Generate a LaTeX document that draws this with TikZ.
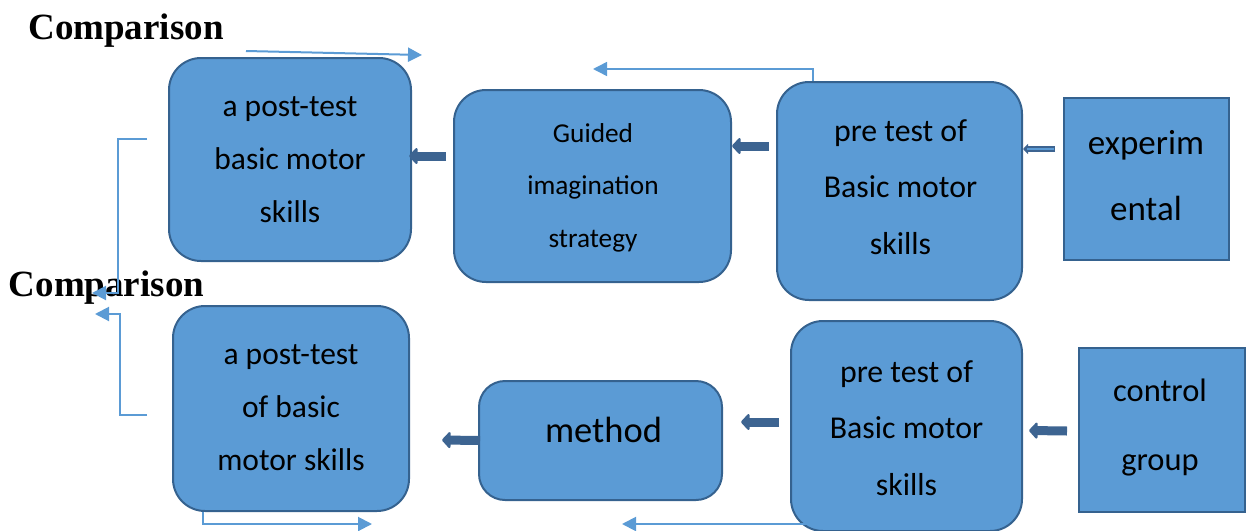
\documentclass[tikz,border=0pt]{standalone}
\usepackage{fontspec}
\setmainfont{Carlito}
\newfontfamily\tnr{Liberation Serif}
\usetikzlibrary{arrows.meta}
\definecolor{boxfill}{HTML}{5B9BD5}
\definecolor{boxline}{HTML}{35628F}
\definecolor{blockarr}{HTML}{3D6491}
\definecolor{thinline}{HTML}{5B9BD5}
\begin{document}
\begin{tikzpicture}[x=1pt,y=-1pt,
  rbox/.style={draw=boxline, fill=boxfill, line width=2pt, rounded corners=32pt, inner sep=0pt},
  sbox/.style={draw=boxline, fill=boxfill, line width=2pt, inner sep=0pt},
  txt/.style={align=center, inner sep=0pt, text=black},
  blk/.style={draw=blockarr, line width=9pt, -{Triangle[length=9pt,width=19pt,round]}},
  thin/.style={draw=thinline, line width=2pt, -{Triangle[length=14pt,width=14pt]}},
  cmp/.style={font=\tnr\bfseries\fontsize{37}{40}\selectfont, inner sep=0pt, anchor=base}
]
\useasboundingbox (0,0) rectangle (1246,530);

% boxes
\node[rbox, minimum width=242pt, minimum height=203pt] (A) at (290,159.5) {};
\node[rbox, minimum width=277pt, minimum height=192pt] (B) at (592.5,186) {};
\node[rbox, minimum width=245pt, minimum height=218pt] (C) at (899.5,191) {};
\node[sbox, minimum width=165pt, minimum height=162pt] (D) at (1146.5,179) {};
\node[rbox, minimum width=236pt, minimum height=205pt] (E) at (291,408.5) {};
\node[rbox, minimum width=243pt, minimum height=119pt, rounded corners=26pt] (F) at (600.5,440.5) {};
\node[rbox, minimum width=231pt, minimum height=210pt] (G) at (906.5,426) {};
\node[sbox, minimum width=166pt, minimum height=164pt] (H) at (1162,430) {};

% texts
\node[txt, font=\fontsize{31.5}{53}\selectfont] (tA) at (290,159.5) {a post-test\\basic motor\\skills};
\node[txt, font=\fontsize{27.3}{52.5}\selectfont] (tB) at (593,187.5) {Guided\\imagination\\strategy};
\node[txt, font=\fontsize{31.8}{56.5}\selectfont] (tC) at (900.5,187) {pre test of\\Basic motor\\skills};
\node[txt, font=\fontsize{35}{66}\selectfont] (tD) at (1146,176) {experim\\ental};
\node[txt, font=\fontsize{31.5}{53}\selectfont] (tE) at (291,408) {a post-test\\of basic\\motor skills};
\node[txt, font=\fontsize{36.5}{40}\selectfont] (tF) at (603.5,430) {method};
\node[txt, font=\fontsize{31.8}{56.5}\selectfont] (tG) at (906.5,428) {pre test of\\Basic motor\\skills};
\node[txt, font=\fontsize{32.5}{69}\selectfont] (tH) at (1160,427.5) {control\\group};

% comparison labels
\node[cmp] (cmp1) at (126,39) {Comparison};
\node[cmp] (cmp2) at (106.5,296) {Comparison};

% block arrows
\draw[blk] ([xshift=-7pt,yshift=30pt]B.west) -- ([xshift=-3pt,yshift=3.5pt]A.east);
\draw[blk] ([xshift=-7pt,yshift=45pt]C.west) -- ([yshift=40pt]B.east);
\draw[draw=blockarr, line width=5.5pt, -{Triangle[length=5pt,width=10pt]}] ([xshift=-8pt,yshift=30pt]D.west) -- ([yshift=42pt]C.east);
\draw[draw=boxfill, line width=2.5pt, shorten >=4pt] ([xshift=-9pt,yshift=30pt]D.west) -- ([yshift=42pt]C.east);
\draw[blk] ([xshift=-11pt,yshift=4pt]G.west) -- ([xshift=18pt,yshift=18.5pt]F.east);
\draw[blk] ([xshift=2pt]F.west) -- ([xshift=32pt,yshift=-31.5pt]E.east);
\draw[blk] ([xshift=-11pt,yshift=-1pt]H.west) -- ([xshift=6pt,yshift=-4.5pt]G.east);

% thin connectors
\coordinate (t1) at (246,51);
\coordinate (t2) at (422,55);
\draw[thin] (t1) -- (t2);

\coordinate (c2) at (593,69);
\draw[thin, line width=1.5pt] ([xshift=-86.5pt]C.north) |- (c2);

\coordinate (l1) at (147,139);
\coordinate (l2) at (92,293);
\draw[thin] (l1) -- (118,139) -- (118,293) -- (l2);

\coordinate (m1) at (147,415);
\coordinate (m2) at (95,314);
\draw[thin] (m1) -- (120,415) -- (120,314) -- (m2);

\coordinate (b2) at (372,524);
\draw[thin] ([xshift=-88pt]E.south) |- (b2);

\coordinate (g1) at (807,524);
\coordinate (g2) at (622,524);
\draw[thin] (g1) -- (g2);
\end{tikzpicture}
\end{document}
